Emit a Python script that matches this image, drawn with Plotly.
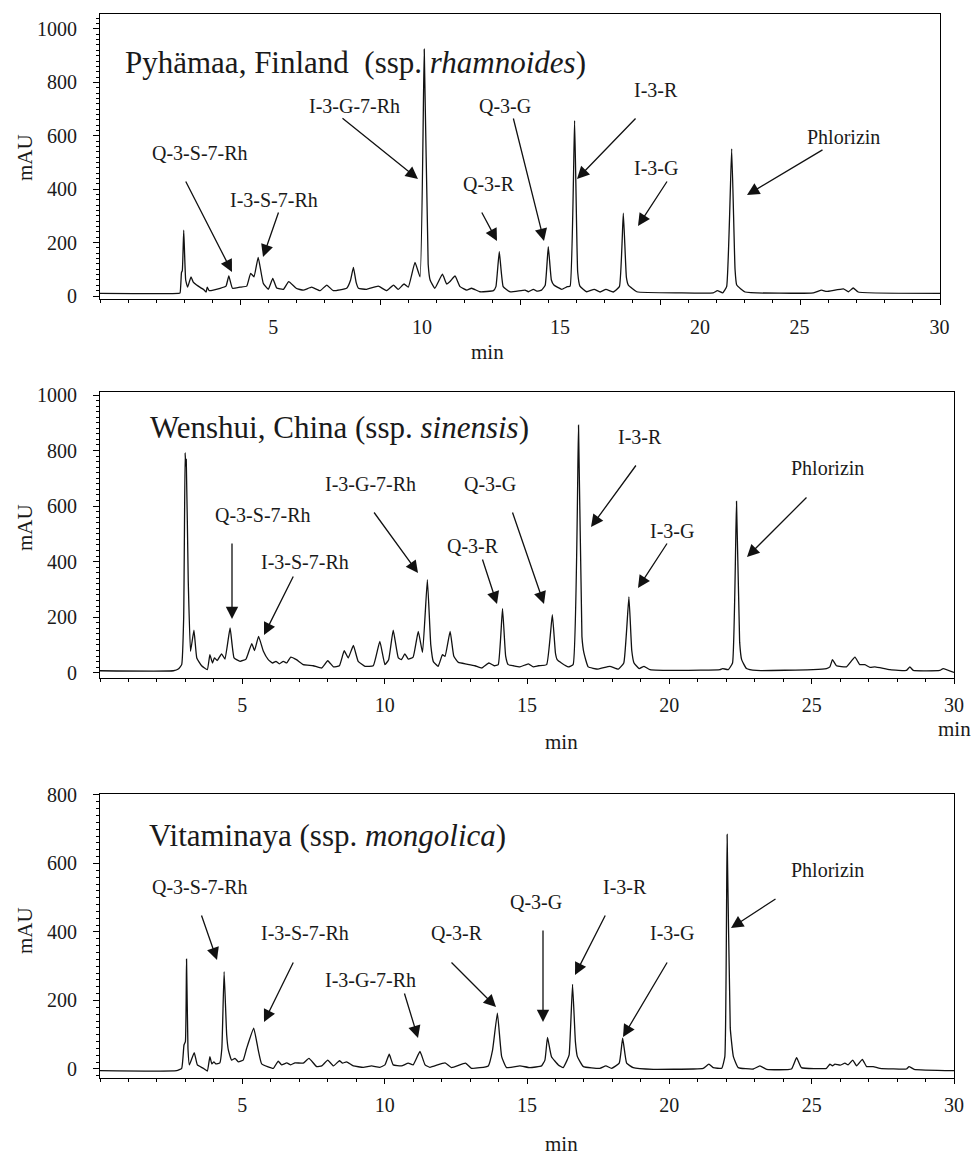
import plotly.graph_objects as go

# ---------------- data (retention time in min, absorbance in mAU) ----------------
p1_time = [0, 2.8, 2.86, 2.91, 2.94, 2.99, 3.06, 3.13, 3.25, 3.33, 3.45, 3.69, 3.79, 3.83, 3.9,
           4.29, 4.5, 4.6, 4.73, 5.0, 5.24, 5.38, 5.5, 5.65, 5.83, 6.01, 6.17, 6.31, 6.55, 6.74,
           7.02, 7.26, 7.56, 7.86, 8.1, 8.33, 8.81, 8.95, 9.05, 9.15, 9.23, 9.52, 9.94, 10.24,
           10.48, 10.65, 10.86, 11.01, 11.25, 11.43, 11.58, 11.72, 11.79, 11.96, 12.23, 12.38,
           12.5, 12.68, 12.86, 13.1, 13.27, 13.57, 14.05, 14.14, 14.26, 14.4, 14.64, 15.18, 15.3,
           15.48, 15.6, 15.77, 15.9, 16.01, 16.12, 16.21, 16.49, 16.69, 16.79, 16.95, 17.06,
           17.14, 17.38, 17.65, 17.86, 18.07, 18.33, 18.55, 18.69, 18.8, 18.87, 19.17, 20.71,
           21.9, 22.05, 22.24, 22.38, 22.56, 22.68, 22.74, 23.04, 25.48, 25.77, 25.95, 26.55,
           26.73, 26.9, 27.08, 30]
p1_mau = [10, 10, 12, 88, 95, 247, 60, 33, 72, 52, 41, 25, 15, 33, 20,
          29, 37, 75, 29, 33, 37, 85, 72, 145, 48, 25, 66, 30, 25, 54,
          28, 22, 33, 20, 41, 20, 29, 60, 107, 50, 29, 25, 37, 20,
          41, 25, 45, 33, 126, 72, 924, 120, 60, 29, 82, 45,
          54, 75, 35, 22, 29, 16, 20, 35, 166, 35, 16, 22, 16,
          25, 18, 22, 40, 185, 60, 41, 25, 35, 37, 657, 90,
          37, 16, 25, 15, 25, 15, 35, 310, 70, 41, 16, 12,
          12, 20, 12, 35, 551, 100, 41, 15, 12, 22, 17, 27,
          16, 30, 15, 10]

p2_time = [0, 2.58, 2.75, 2.87, 2.94, 2.99, 3.01, 3.03, 3.1, 3.18, 3.3, 3.4, 3.57, 3.77, 3.86,
           3.95, 4.02, 4.12, 4.27, 4.39, 4.57, 4.71, 4.92, 5.13, 5.33, 5.43, 5.57, 5.74, 5.91,
           6.06, 6.18, 6.3, 6.44, 6.56, 6.7, 6.9, 7.14, 7.49, 7.79, 8.0, 8.2, 8.41, 8.58, 8.72,
           8.9, 9.07, 9.31, 9.6, 9.83, 10.01, 10.14, 10.3, 10.48, 10.59, 10.71, 10.83, 11.0,
           11.18, 11.33, 11.5, 11.62, 11.71, 11.88, 12.03, 12.12, 12.3, 12.43, 12.59, 12.88,
           13.17, 13.41, 13.66, 13.85, 13.99, 14.14, 14.25, 14.34, 14.52, 14.75, 15.05, 15.22,
           15.4, 15.69, 15.89, 16.0, 16.06, 16.21, 16.45, 16.62, 16.81, 16.93, 17.0, 17.15,
           17.5, 17.91, 18.21, 18.4, 18.58, 18.68, 18.76, 18.94, 19.11, 19.32, 20.37, 21.78,
           21.87, 22.07, 22.22, 22.36, 22.47, 22.54, 22.71, 23.06, 25.05, 25.52, 25.64, 25.73,
           25.87, 26.22, 26.52, 26.69, 26.87, 27.05, 27.22, 27.75, 28.33, 28.45, 28.57, 29.5,
           29.62, 30]
p2_mau = [7, 7, 13, 29, 200, 792, 745, 768, 330, 77, 153, 53, 25, 11, 65,
          35, 53, 44, 68, 49, 161, 53, 41, 49, 105, 80, 131, 77, 47,
          35, 41, 32, 41, 35, 56, 47, 29, 25, 17, 43, 21, 25, 79, 53,
          98, 41, 23, 25, 113, 29, 47, 153, 53, 47, 68, 49, 56,
          149, 73, 335, 100, 40, 23, 65, 59, 149, 59, 37, 31,
          25, 17, 35, 25, 29, 231, 60, 29, 25, 21, 32, 21,
          25, 29, 209, 70, 47, 35, 21, 29, 891, 130, 71, 21,
          13, 23, 13, 35, 273, 80, 35, 15, 23, 11, 8, 11,
          15, 11, 35, 617, 110, 47, 15, 8, 11, 15, 21, 47,
          25, 21, 56, 29, 29, 19, 21, 11, 8, 21, 8, 8,
          15, 1]

p3_time = [0, 2.69, 2.87, 2.95, 3.0, 3.04, 3.09, 3.14, 3.31, 3.42, 3.63, 3.77, 3.86, 3.93, 4.0,
           4.07, 4.21, 4.28, 4.36, 4.45, 4.51, 4.62, 4.74, 4.86, 5.03, 5.15, 5.4, 5.56, 5.68,
           6.09, 6.26, 6.38, 6.56, 6.7, 6.85, 7.14, 7.34, 7.61, 7.79, 8.0, 8.2, 8.41, 8.52,
           8.66, 8.9, 9.25, 9.54, 9.83, 10.01, 10.16, 10.3, 10.59, 10.83, 11.0, 11.24, 11.42,
           11.59, 12.12, 12.35, 12.84, 13.05, 13.64, 13.79, 13.96, 14.11, 14.28, 14.75, 15.1,
           15.51, 15.63, 15.72, 15.86, 16.1, 16.27, 16.41, 16.48, 16.6, 16.7, 16.77, 16.98,
           17.56, 17.77, 17.97, 18.24, 18.36, 18.5, 18.73, 19.44, 20.84, 21.19, 21.39, 21.54,
           21.84, 21.95, 22.03, 22.14, 22.25, 22.42, 22.95, 23.18, 23.42, 24.29, 24.47, 24.64,
           25.52, 25.64, 25.73, 25.82, 26.0, 26.17, 26.28, 26.44, 26.58, 26.78, 26.93, 27.16,
           27.4, 28.33, 28.42, 28.6, 30]
p3_mau = [-5, -5, 2, 70, 80, 321, 60, 12, 48, 12, 2, -6, 36, 15, 21,
          15, 18, 60, 284, 100, 55, 26, 31, 21, 26, 60, 119, 55, 15,
          2, 23, 12, 18, 12, 18, 17, 31, 7, 9, 26, 9, 24, 17,
          21, 9, 5, 9, 5, 12, 43, 12, 9, 17, 12, 51, 12,
          5, 18, 4, 17, 2, 9, 55, 163, 36, 4, 9, 4,
          9, 26, 92, 36, 12, 4, 26, 41, 247, 80, 36, 7,
          2, 9, 2, 17, 90, 17, 4, -1, 0, 2, 14, 4,
          2, 36, 685, 120, 36, 4, 0, 9, -1, 0, 33, 4,
          2, 14, 9, 14, 11, 17, 12, 26, 9, 28, 7, 7,
          2, 0, 7, -1, -5]

panel_titles = ["Pyhämaa, Finland\u00a0\u00a0(ssp. <i>rhamnoides</i>)",
                "Wenshui, China (ssp.\u00a0<i>sinensis</i>)",
                "Vitaminaya (ssp. <i>mongolica</i>)"]
compound_names = ["Q-3-S-7-Rh", "I-3-S-7-Rh", "I-3-G-7-Rh", "Q-3-R", "Q-3-G", "I-3-R", "I-3-G", "Phlorizin"]
x_tick_values = [5, 10, 15, 20, 25, 30]
x_tick_text = ["5", "10", "15", "20", "25", "30"]
p1_shown_label_pos = [6.19, 11.5, 16.43, 21.43, 24.98, 29.98]
y_ticks_1000 = [0, 200, 400, 600, 800, 1000]
y_ticks_800 = [0, 200, 400, 600, 800]

# ---------------- geometry (pixels) ----------------
W, H = 973, 1157
ML, MR, MT, MB = 100, 19, 14, 79
PW = W - ML - MR
PH = H - MT - MB


def fx(x):
    return (x - ML) / PW


def fy(y):
    return (H - MB - y) / PH


FONT = "Liberation Serif, Times New Roman, serif"
INK = "#1a1a1a"

fig = go.Figure()
for t, v, xa, ya in [(p1_time, p1_mau, "x", "y"), (p2_time, p2_mau, "x2", "y2"), (p3_time, p3_mau, "x3", "y3")]:
    fig.add_trace(go.Scatter(x=t, y=v, mode="lines",
                             line=dict(color="#111111", width=1.3, shape="spline", smoothing=0.35),
                             xaxis=xa, yaxis=ya, showlegend=False, hoverinfo="skip"))
# invisible trace so the label-only overlay axis of panel 1 is drawn
fig.add_trace(go.Scatter(x=[None], y=[None], xaxis="x4", yaxis="y", showlegend=False, hoverinfo="skip"))

minor_x = dict(dtick=1, tick0=0, ticks="outside", ticklen=3, tickcolor="black", showgrid=False)
minor_y = dict(dtick=20, tick0=0, ticks="outside", ticklen=3.5, tickcolor="black", showgrid=False)
tickfont = dict(family=FONT, size=20, color=INK)


def xaxis(domain, anchor, labels=True):
    return dict(domain=domain, anchor=anchor, range=[0, 30], tickmode="array", tickvals=x_tick_values,
                ticktext=x_tick_text, showticklabels=labels, ticks="outside", ticklen=5, tickcolor="black",
                showline=True, linecolor="black", linewidth=1, mirror=True, showgrid=False, zeroline=False,
                minor=minor_x, tickfont=tickfont, ticklabelstandoff=4, automargin=False)


def yaxis(domain, anchor, rng, vals):
    return dict(domain=domain, anchor=anchor, range=rng, tickmode="array", tickvals=vals,
                ticks="outside", ticklen=6, tickcolor="black", showline=True, linecolor="black",
                linewidth=1, mirror=True, showgrid=False, zeroline=False, minor=minor_y,
                tickfont=tickfont, ticklabelstandoff=12, automargin=False)


layout = dict(
    template="none",
    width=W, height=H, margin=dict(l=ML, r=MR, t=MT, b=MB, autoexpand=False),
    paper_bgcolor="white", plot_bgcolor="white", showlegend=False,
    xaxis=xaxis([0, fx(940)], "y", labels=False),
    yaxis=yaxis([fy(299), 1], "x", [-11.2, 1056], y_ticks_1000),
    xaxis2=xaxis([0, 1], "y2"),
    yaxis2=yaxis([fy(677.5), fy(392)], "x2", [-17.3, 1010.8], y_ticks_1000),
    xaxis3=xaxis([0, 1], "y3"),
    yaxis3=yaxis([0, fy(794.3)], "x3", [-26.3, 802], y_ticks_800),
    xaxis4=dict(overlaying="x", anchor="y", range=[0, 30], tickmode="array", tickvals=p1_shown_label_pos,
                ticktext=x_tick_text, ticks="", showline=False, showgrid=False, zeroline=False,
                tickfont=tickfont, ticklabelstandoff=14, automargin=False),
)
fig.update_layout(**layout)

ann = []


def text(s, x, y, size=20, xanchor="center", angle=0):
    ann.append(dict(text=s, x=fx(x), y=fy(y), xref="paper", yref="paper", xanchor=xanchor,
                    yanchor="middle", showarrow=False, textangle=angle,
                    font=dict(family=FONT, size=size, color=INK)))


def arrow(tail, head):
    ann.append(dict(text="", x=fx(head[0]), y=fy(head[1]), xref="paper", yref="paper",
                    ax=tail[0] - head[0], ay=tail[1] - head[1], showarrow=True, arrowhead=2,
                    arrowsize=1.9, arrowwidth=1.3, arrowcolor="#111111", standoff=0, startstandoff=0))


# label centre, arrow tail, arrow head (pixel positions) for each compound, per panel
panel_labels = [
    [(200, 153, 185, 180, 232, 272), (274, 200, 279, 211, 263, 257), (354, 106, 341, 117, 418, 179),
     (489, 184, 481, 211, 497, 241), (505, 106, 513, 117, 544, 241), (656, 90, 637, 117, 577, 179),
     (656, 168, 668, 180, 638, 226), (843, 137, 824, 149, 747, 195)],
    [(263, 515, 232, 542, 232, 619), (305, 562, 294, 575, 264, 635), (370, 484, 373, 511, 418, 573),
     (473, 546, 482, 558, 497, 604), (490, 484, 512, 511, 544, 604), (640, 437, 637, 464, 591, 527),
     (672, 531, 668, 542, 638, 588), (827, 468, 808, 496, 747, 557)],
    [(200, 887, 201, 914, 217, 960), (305, 933, 294, 961, 264, 1022), (370, 980, 404, 992, 418, 1038),
     (457, 933, 450, 961, 496, 1007), (536, 902, 543, 929, 543, 1022), (625, 887, 606, 914, 575, 975),
     (672, 933, 668, 961, 623, 1037), (827, 870, 777, 898, 731, 928)],
]
title_pos = [(123, 62), (148, 427), (147, 835)]
mau_pos = [(25, 158), (25, 528), (25, 931)]

for i in range(3):
    text(panel_titles[i], title_pos[i][0], title_pos[i][1], size=31, xanchor="left")
    text("mAU", mau_pos[i][0], mau_pos[i][1], size=21, angle=-90)
    for name, (lx, ly, tx, ty, hx, hy) in zip(compound_names, panel_labels[i]):
        text(name, lx, ly)
        arrow((tx, ty), (hx, hy))

text("min", 487, 352, size=21)
text("min", 561, 742, size=21)
text("min", 955, 729, size=21)
text("min", 561, 1144, size=21)

fig.update_layout(annotations=ann)
fig.write_html("out.html", config={"displayModeBar": False},
               post_script="document.body.style.margin='0';document.body.style.overflow='hidden';")
